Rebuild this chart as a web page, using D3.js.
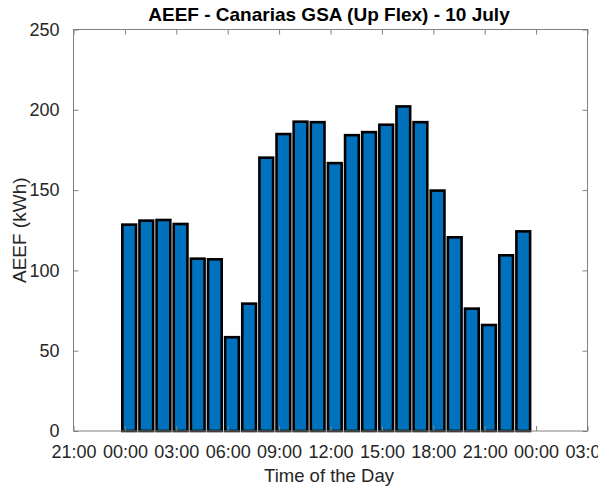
<!DOCTYPE html>
<html>
<head>
<meta charset="utf-8">
<script src="https://cdn.jsdelivr.net/npm/d3@7"></script>
<style>
  html, body { margin: 0; padding: 0; background: #fff; }
  text { font-family: "Liberation Sans", Arial, Helvetica, sans-serif; }
</style>
</head>
<body>
<svg id="chart" width="598" height="491"></svg>
<script>
// ---- data ----
const titleText = "AEEF - Canarias GSA (Up Flex) - 10 July";
const xLabelText = "Time of the Day";
const yLabelText = "AEEF (kWh)";
// bar positions in hours (bars sit a quarter hour after each full hour)
const barHours = [0.25, 1.25, 2.25, 3.25, 4.25, 5.25, 6.25, 7.25, 8.25, 9.25, 10.25, 11.25,
                  12.25, 13.25, 14.25, 15.25, 16.25, 17.25, 18.25, 19.25, 20.25, 21.25, 22.25, 23.25];
const values = [128.5, 131.0, 131.4, 128.9, 107.3, 106.9, 58.4, 79.3, 170.2, 184.9, 192.6, 192.3,
                166.8, 184.2, 186.1, 190.7, 202.1, 192.3, 149.7, 120.6, 76.2, 66.0, 109.4, 124.3];
const xTickValues = [-3, 0, 3, 6, 9, 12, 15, 18, 21, 24, 27];
const xTickLabels = ["21:00", "00:00", "03:00", "06:00", "09:00", "12:00", "15:00", "18:00", "21:00", "00:00", "03:00"];
const yTickValues = [0, 50, 100, 150, 200, 250];

// ---- layout ----
const mLeft = 73.5, mRight = 587.5, mTop = 29.5, mBottom = 431;
const svg = d3.select("#chart");

const x = d3.scaleLinear().domain([-3, 27]).range([mLeft, mRight]);
const y = d3.scaleLinear().domain([0, 250]).range([mBottom, mTop]);

const barW = x(0.8) - x(0);

// bars
svg.append("g").selectAll("rect").data(values).join("rect")
  .attr("x", (d, i) => x(barHours[i]) - barW / 2)
  .attr("y", d => y(d))
  .attr("width", barW)
  .attr("height", d => y(0) - y(d))
  .attr("fill", "#0072BD")
  .attr("stroke", "#000")
  .attr("stroke-width", 2.6);

const axisColor = "#808080";
const textColor = "#262626";
const tickLen = 5;

// frame
svg.append("rect")
  .attr("x", mLeft).attr("y", mTop)
  .attr("width", mRight - mLeft).attr("height", mBottom - mTop)
  .attr("fill", "none").attr("stroke", axisColor).attr("stroke-width", 1);

// x axis (bottom) - inward ticks
const xAxis = d3.axisBottom(x).tickValues(xTickValues)
  .tickFormat((d, i) => xTickLabels[i]).tickSizeInner(-tickLen).tickSizeOuter(0).tickPadding(14);
const gx = svg.append("g").attr("transform", `translate(0,${mBottom})`).call(xAxis);
gx.select(".domain").remove();
gx.selectAll("line").attr("stroke", axisColor);
gx.selectAll("text").attr("fill", textColor).style("font-size", "18px");

// x axis (top) ticks only
const gxt = svg.append("g").attr("transform", `translate(0,${mTop})`)
  .call(d3.axisTop(x).tickValues(xTickValues).tickFormat("").tickSizeInner(-tickLen).tickSizeOuter(0));
gxt.select(".domain").remove();
gxt.selectAll("line").attr("stroke", axisColor);

// y axis (left)
const yAxis = d3.axisLeft(y).tickValues(yTickValues).tickSizeInner(-tickLen).tickSizeOuter(0).tickPadding(14);
const gy = svg.append("g").attr("transform", `translate(${mLeft},0)`).call(yAxis);
gy.select(".domain").remove();
gy.selectAll("line").attr("stroke", axisColor);
gy.selectAll("text").attr("fill", textColor).style("font-size", "18px");

// y axis (right) ticks only
const gyr = svg.append("g").attr("transform", `translate(${mRight},0)`)
  .call(d3.axisRight(y).tickValues(yTickValues).tickFormat("").tickSizeInner(-tickLen).tickSizeOuter(0));
gyr.select(".domain").remove();
gyr.selectAll("line").attr("stroke", axisColor);

// title
svg.append("text")
  .attr("x", 329).attr("y", 21)
  .attr("text-anchor", "middle")
  .attr("fill", "#000")
  .style("font-size", "19px").style("font-weight", "bold")
  .text(titleText);

// x label
svg.append("text")
  .attr("x", 329).attr("y", 482)
  .attr("text-anchor", "middle")
  .attr("fill", textColor)
  .style("font-size", "18.5px")
  .text(xLabelText);

// y label
svg.append("text")
  .attr("transform", `translate(26,${(mTop + mBottom) / 2}) rotate(-90)`)
  .attr("text-anchor", "middle")
  .attr("fill", textColor)
  .style("font-size", "19px")
  .text(yLabelText);
</script>
</body>
</html>
